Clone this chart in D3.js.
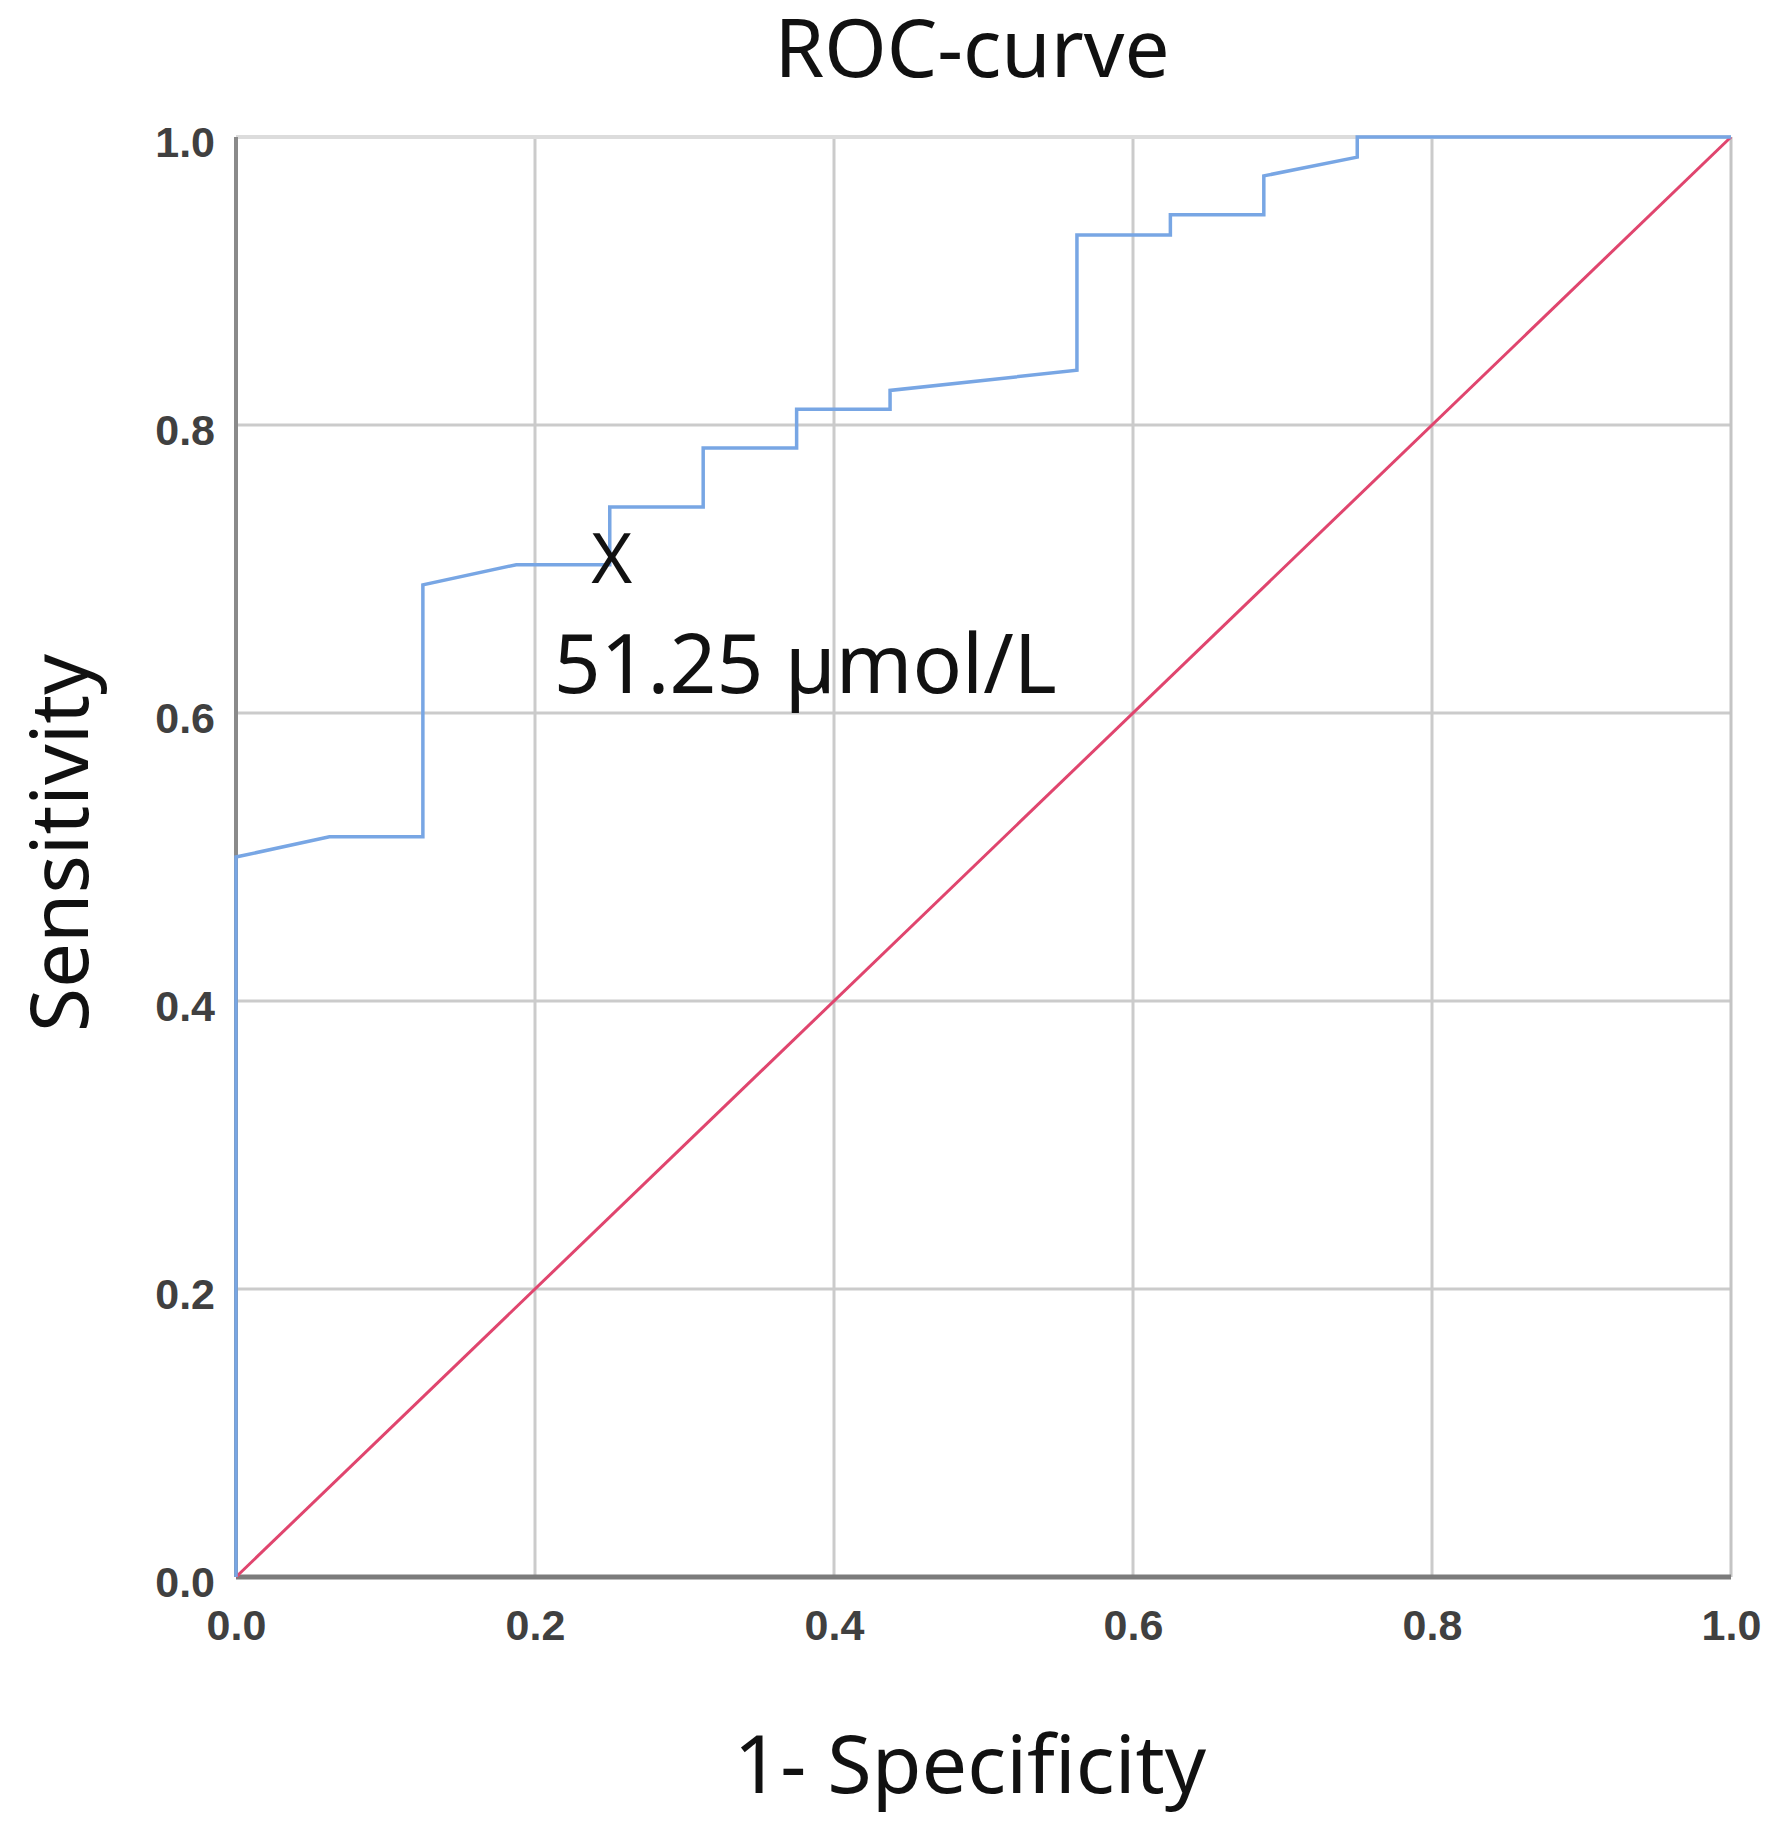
<!DOCTYPE html>
<html>
<head>
<meta charset="utf-8">
<script src="https://cdn.jsdelivr.net/npm/d3@7"></script>
<style>
  html, body { margin: 0; background: #fff; overflow: hidden; }
  svg { display: block; }
</style>
</head>
<body>
<svg id="chart"></svg>
<script>
// ROC curve
const fpr = [0, 0, 0.0625, 0.125, 0.125, 0.1875, 0.25, 0.25, 0.3125, 0.3125, 0.375, 0.375,
  0.4375, 0.4375, 0.5625, 0.5625, 0.625, 0.625, 0.6875, 0.6875, 0.75, 0.75, 1];
const tpr = [0, 0.5, 0.514, 0.514, 0.689, 0.703, 0.703, 0.743, 0.743, 0.784, 0.784, 0.811,
  0.811, 0.824, 0.838, 0.932, 0.932, 0.946, 0.946, 0.973, 0.986, 1, 1];
const refLine = [[0, 0], [1, 1]];
const tickValues = [0, 0.2, 0.4, 0.6, 0.8, 1.0];
const cutoff = { x: 0.25, y: 0.703, mark: "X", label: "51.25 µmol/L" };

const width = 1774, height = 1831;
const margin = { top: 137, right: 43, bottom: 254, left: 236 };
const innerWidth = width - margin.left - margin.right;
const innerHeight = height - margin.top - margin.bottom;
const textFont = "'Noto Sans', 'Open Sans', sans-serif";

const svg = d3.select("#chart")
  .attr("width", width)
  .attr("height", height)
  .attr("viewBox", `0 0 ${width} ${height}`);

const g = svg.append("g")
  .attr("transform", `translate(${margin.left},${margin.top})`);

const x = d3.scaleLinear().domain([0, 1]).range([0, innerWidth]);
const y = d3.scaleLinear().domain([0, 1]).range([innerHeight, 0]);

// Gridlines
g.append("g")
  .selectAll("line")
  .data(tickValues.slice(1, -1))
  .join("line")
  .attr("x1", d => x(d)).attr("x2", d => x(d))
  .attr("y1", 0).attr("y2", innerHeight)
  .attr("stroke", "#cbcbcb").attr("stroke-width", 3);

g.append("g")
  .selectAll("line")
  .data(tickValues.slice(1, -1))
  .join("line")
  .attr("y1", d => y(d)).attr("y2", d => y(d))
  .attr("x1", 0).attr("x2", innerWidth)
  .attr("stroke", "#cbcbcb").attr("stroke-width", 3);

// Frame: light top/right, darker left/bottom
g.append("line")
  .attr("x1", 0).attr("x2", innerWidth).attr("y1", y(1)).attr("y2", y(1))
  .attr("stroke", "#dcdcdc").attr("stroke-width", 4);
g.append("line")
  .attr("x1", x(1)).attr("x2", x(1)).attr("y1", 0).attr("y2", innerHeight)
  .attr("stroke", "#c4c4c4").attr("stroke-width", 3);

// Axes
const yAxis = g.append("g")
  .call(d3.axisLeft(y).tickValues(tickValues).tickFormat(d3.format(".1f")).tickSize(0).tickPadding(21));
const xAxis = g.append("g")
  .attr("transform", `translate(0,${innerHeight})`)
  .call(d3.axisBottom(x).tickValues(tickValues).tickFormat(d3.format(".1f")).tickSize(0).tickPadding(32));

[yAxis, xAxis].forEach(a => {
  a.select(".domain").remove();
  a.selectAll("text")
    .attr("font-family", "'Liberation Sans', Arial, sans-serif")
    .attr("font-size", 43)
    .attr("font-weight", "bold")
    .attr("fill", "#404040");
});
yAxis.selectAll("text").attr("dy", "0.45em");

g.append("line")
  .attr("x1", 0).attr("x2", 0).attr("y1", 0).attr("y2", innerHeight)
  .attr("stroke", "#8a8a8a").attr("stroke-width", 4);
g.append("line")
  .attr("x1", 0).attr("x2", innerWidth).attr("y1", innerHeight).attr("y2", innerHeight)
  .attr("stroke", "#7c7c7c").attr("stroke-width", 5);

// Reference diagonal
g.append("path")
  .datum(refLine)
  .attr("d", d3.line().x(d => x(d[0])).y(d => y(d[1])))
  .attr("fill", "none")
  .attr("stroke", "#e0456e")
  .attr("stroke-width", 3);

// ROC curve
g.append("path")
  .datum(fpr.map((v, i) => [v, tpr[i]]))
  .attr("d", d3.line().x(d => x(d[0])).y(d => y(d[1])))
  .attr("fill", "none")
  .attr("stroke", "#78a6e4")
  .attr("stroke-width", 3.5)
  .attr("stroke-linejoin", "miter");

// Cutoff annotation
g.append("text")
  .attr("x", x(cutoff.x) + 2)
  .attr("y", y(cutoff.y) + 18)
  .attr("text-anchor", "middle")
  .attr("font-family", textFont)
  .attr("font-size", 70)
  .attr("fill", "#111")
  .text(cutoff.mark);

g.append("text")
  .attr("x", x(cutoff.x) - 56)
  .attr("y", y(cutoff.y) + 128)
  .attr("font-family", textFont)
  .attr("font-size", 82)
  .attr("fill", "#111")
  .text(cutoff.label);

// Titles
svg.append("text")
  .attr("x", 972)
  .attr("y", 77)
  .attr("text-anchor", "middle")
  .attr("font-family", textFont)
  .attr("font-size", 80)
  .attr("fill", "#111")
  .text("ROC-curve");

svg.append("text")
  .attr("x", 970)
  .attr("y", 1793)
  .attr("text-anchor", "middle")
  .attr("font-family", textFont)
  .attr("font-size", 81)
  .attr("fill", "#111")
  .text("1- Specificity");

svg.append("text")
  .attr("transform", "translate(88,843) rotate(-90)")
  .attr("text-anchor", "middle")
  .attr("font-family", textFont)
  .attr("font-size", 80)
  .attr("fill", "#111")
  .text("Sensitivity");
</script>
</body>
</html>
